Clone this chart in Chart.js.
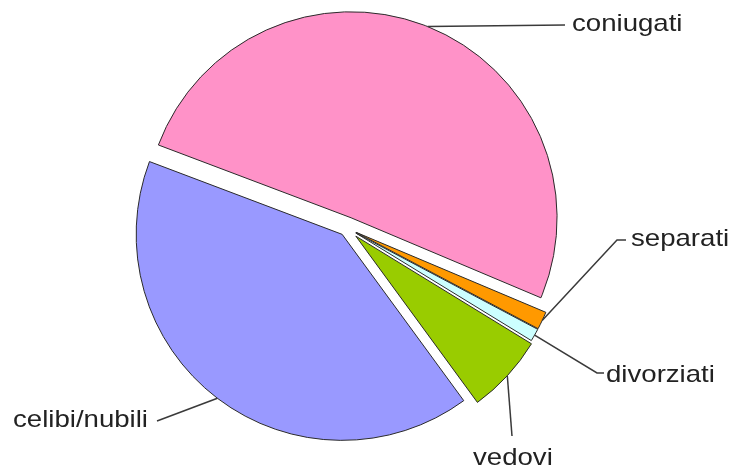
<!DOCTYPE html>
<html>
<head>
<meta charset="utf-8">
<script src="https://cdn.jsdelivr.net/npm/chart.js@4"></script>
<style>
  html, body { margin: 0; padding: 0; background: #fff; }
  canvas { display: block; }
</style>
</head>
<body>
<canvas id="myChart" width="735" height="470"></canvas>
<script>
// stato civile (%)
const categories = ["coniugati", "separati", "divorziati", "vedovi", "celibi/nubili"];
const values = [50.6, 1.4, 1.0, 6.2, 40.8];
const colors = ["#FF92C8", "#FF9900", "#CCFFFF", "#99CC00", "#9999FF"];
const explode = [11, 10, 10, 12, 8]; // px each slice is pulled out

// where each label sits and how its leader line bends
const labelLayout = [
  { path: [[565, 25]], text: [572, 31], align: "left" },
  { path: [[617, 240], [626, 240]], text: [631, 246], align: "left" },
  { path: [[597, 373], [604, 373]], text: [606, 382], align: "left" },
  { path: [[512, 436]], text: [473, 465], align: "left" },
  { path: [[157, 421]], text: [148, 427], align: "right" },
];

// the built-in arc offset also grows the radius, so shift the slices ourselves
const explodeSlices = {
  id: "explodeSlices",
  afterDatasetUpdate(chart, args) {
    chart.getDatasetMeta(args.index).data.forEach((arc, i) => {
      if (arc._exploded) return;
      const baseDraw = arc.draw;
      arc.draw = function (ctx, area) {
        const mid = (this.startAngle + this.endAngle) / 2;
        ctx.save();
        ctx.translate(Math.cos(mid) * explode[i], Math.sin(mid) * explode[i]);
        baseDraw.call(this, ctx, area);
        ctx.restore();
      };
      arc._exploded = true;
    });
  }
};

const leaderLabels = {
  id: "leaderLabels",
  afterDatasetsDraw(chart) {
    const ctx = chart.ctx;
    const arcs = chart.getDatasetMeta(0).data;
    ctx.save();
    arcs.forEach((arc, i) => {
      const { x, y, startAngle, endAngle, outerRadius } = arc.getProps(["x", "y", "startAngle", "endAngle", "outerRadius"], true);
      const mid = (startAngle + endAngle) / 2;
      const r = outerRadius + explode[i];
      const ax = x + Math.cos(mid) * r;
      const ay = y + Math.sin(mid) * r;
      const lay = labelLayout[i];

      ctx.strokeStyle = "#3a3a3a";
      ctx.lineWidth = 1.5;
      ctx.beginPath();
      ctx.moveTo(ax, ay);
      lay.path.forEach(p => ctx.lineTo(p[0], p[1]));
      ctx.stroke();

      ctx.save();
      ctx.translate(lay.text[0], lay.text[1]);
      ctx.scale(1.15, 1);
      ctx.font = "24px 'Liberation Sans', Arial, sans-serif";
      ctx.fillStyle = "#222";
      ctx.textAlign = lay.align;
      ctx.textBaseline = "alphabetic";
      ctx.fillText(categories[i], 0, 0);
      ctx.restore();
    });
    ctx.restore();
  }
};

new Chart(document.getElementById("myChart"), {
  type: "pie",
  data: {
    labels: categories,
    datasets: [{
      data: values,
      backgroundColor: colors,
      borderColor: "#2a2a2a",
      borderWidth: 1,
      offset: 0,
      hoverOffset: 0,
    }],
  },
  options: {
    responsive: false,
    animation: false,
    rotation: -69.3,
    radius: 206,
    layout: { padding: { left: 0, right: 41, top: 0, bottom: 14 } },
    plugins: {
      legend: { display: false },
      tooltip: { enabled: false },
    },
    events: [],
  },
  plugins: [explodeSlices, leaderLabels],
});
</script>
</body>
</html>
